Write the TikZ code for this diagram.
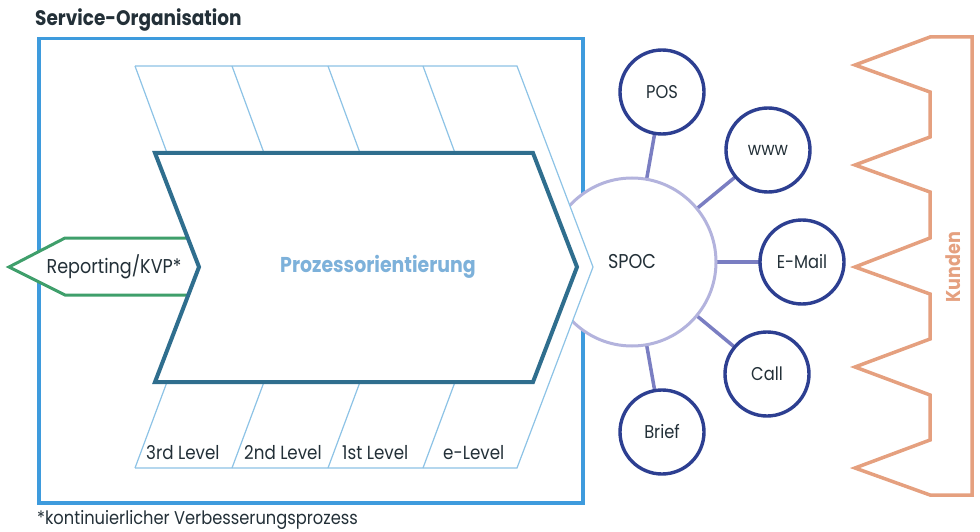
\documentclass[tikz,border=0pt]{standalone}
\usepackage{fontspec}
\setmainfont{Poppins}[FakeStretch=0.88]
\definecolor{boxblue}{HTML}{3E9BDD}
\definecolor{striplight}{HTML}{8DC3E6}
\definecolor{chevdark}{HTML}{2F6E8E}
\definecolor{protext}{HTML}{7DB1DA}
\definecolor{greenc}{HTML}{3F9F6B}
\definecolor{spocline}{HTML}{B3B3DD}
\definecolor{satline}{HTML}{2D3F91}
\definecolor{spokec}{HTML}{7A7EC2}
\definecolor{orangec}{HTML}{E5A07F}
\definecolor{textdark}{HTML}{233038}
\pgfdeclarelayer{bg}
\pgfsetlayers{bg,main}
\tikzset{
  fs/.style={font=\fontsize{#1}{#1}\selectfont},
  lbl/.style={text=textdark, inner sep=0pt},
  strip/.style={draw=striplight, line width=1.2pt},
  sat/.style={circle, draw=satline, line width=3.4pt, fill=white, minimum size=84pt, inner sep=0pt, text=textdark, font=\fontsize{18.5}{18.5}\selectfont},
  spokeline/.style={draw=spokec, line width=3.5pt},
}
\begin{document}
\begin{tikzpicture}[x=1pt,y=-1pt, line join=miter]
\useasboundingbox (0,0) rectangle (980,532);
% title
\node[lbl, anchor=base west, font=\bfseries\fontsize{21}{21}\selectfont] (title) at (35,26) {Service-Organisation};
% organisation box
\begin{pgfonlayer}{bg}
\node[draw=boxblue, line width=3.5pt, minimum width=544pt, minimum height=464pt, inner sep=0pt, anchor=north west] (org) at (37,37) {};
\end{pgfonlayer}
% SPOC and channels
\node[circle, draw=spocline, line width=3pt, fill=white, minimum size=168pt, inner sep=0pt, text=textdark, font=\fontsize{20}{20}\selectfont] (spoc) at (632,262) {SPOC};
\node[sat] (pos) at (662,92) {POS};
\node[sat] (www) at (768,150) {www};
\node[sat] (mail) at (802,262) {E-Mail};
\node[sat] (call) at (767,374) {Call};
\node[sat] (brief) at (662,432) {Brief};
\begin{pgfonlayer}{bg}
\foreach \n in {pos,www,mail,call,brief} \draw[spokeline] (spoc.center) -- (\n.center);
\end{pgfonlayer}
% level band
\fill[white] (135,66) -- (517,66) -- (593,267) -- (517,468) -- (135,468) -- (167,382) -- (167,152) -- cycle;
\draw[strip] (135,66) -- (517,66) -- (593,267) -- (517,468) -- (135,468);
\draw[strip] (135,66) -- (167,153) (232,66) -- (264,153) (328,66) -- (360,153) (423,66) -- (455,153);
\draw[strip] (167,382) -- (135,468) (264,382) -- (232,468) (360,382) -- (328,468) (455,382) -- (423,468);
% reporting arrow
\draw[draw=greenc, line width=3pt, fill=white] (205,238) -- (65,238) -- (9,267) -- (65,295) -- (205,295);
% main chevron
\draw[draw=chevdark, line width=4pt, fill=white] (155,153) -- (533,153) -- (577,267) -- (533,382) -- (155,382) -- (199,267) -- cycle;
\node[lbl, fs=20] (rep) at (114,267) {Reporting/KVP*};
\node[inner sep=0pt, text=protext, font=\bfseries\fontsize{21.5}{21.5}\selectfont] (proz) at (378,267) {Prozessorientierung};
% level labels
\node[lbl, fs=19, anchor=base west] (l3) at (146,459) {3rd Level};
\node[lbl, fs=19, anchor=base west] (l2) at (244,459) {2nd Level};
\node[lbl, fs=19, anchor=base west] (l1) at (342,459) {1st Level};
\node[lbl, fs=19, anchor=base west] (le) at (443,459) {e-Level};
% customers
\draw[draw=orangec, line width=3.5pt] (930,37) -- (972,37) -- (972,495) -- (930,495) -- (855,468) -- (930,440) -- (930,395) -- (855,367) -- (930,339) -- (930,294) -- (855,267) -- (930,238) -- (930,192) -- (855,165) -- (930,137) -- (930,92) -- (855,65) -- cycle;
\node[rotate=90, inner sep=0pt, text=orangec, font=\bfseries\fontsize{20}{20}\selectfont] (kunden) at (953,267) {Kunden};
% footnote
\node[lbl, fs=18.5, anchor=base west] (foot) at (37,524) {*kontinuierlicher Verbesserungsprozess};
\end{tikzpicture}
\end{document}
